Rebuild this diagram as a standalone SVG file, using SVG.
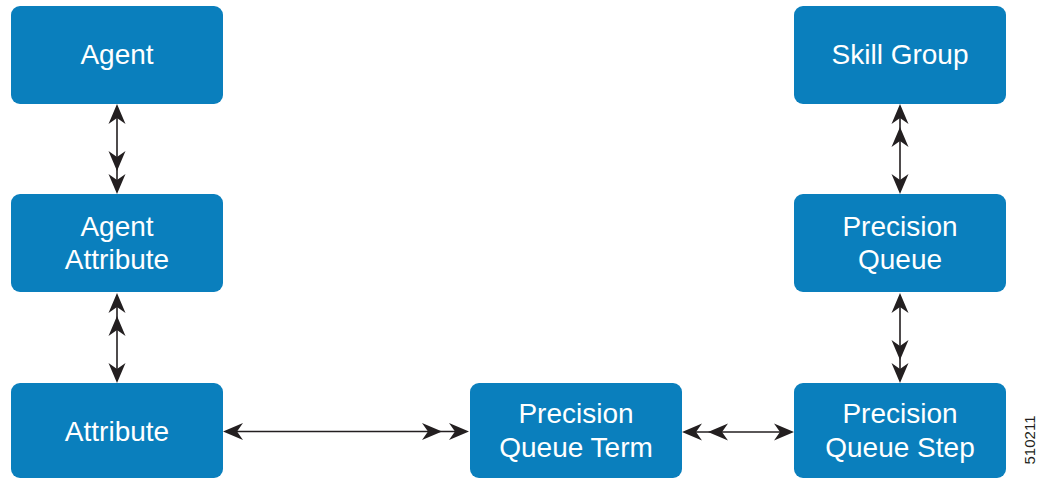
<svg xmlns="http://www.w3.org/2000/svg" xmlns:xlink="http://www.w3.org/1999/xlink" width="1040" height="479" viewBox="0 0 1040 479">
<style>
.box{fill:#0a7fbd}
.lbl{fill:#ffffff;font-family:"Liberation Sans",Arial,sans-serif;font-size:28px;text-anchor:middle}
.ln{stroke:#231f20;stroke-width:1.6;fill:none}
.fig{fill:#231f20;font-family:"Liberation Sans",Arial,sans-serif;font-size:15px;text-anchor:middle}
</style>
<defs>
<path id="ah" d="M0,0 L-20,-8.5 L-14,0 L-20,8.5 Z" fill="#231f20"/>
</defs>
<rect width="1040" height="479" fill="#ffffff"/>
<g id="connectors">
<line class="ln" x1="117" y1="108" x2="117" y2="190"/>
<use xlink:href="#ah" transform="translate(117,104) rotate(-90)"/>
<use xlink:href="#ah" transform="translate(117,171) rotate(90)"/>
<use xlink:href="#ah" transform="translate(117,194) rotate(90)"/>

<line class="ln" x1="117" y1="297" x2="117" y2="379"/>
<use xlink:href="#ah" transform="translate(117,293) rotate(-90)"/>
<use xlink:href="#ah" transform="translate(117,316) rotate(-90)"/>
<use xlink:href="#ah" transform="translate(117,383) rotate(90)"/>

<line class="ln" x1="900" y1="108" x2="900" y2="190"/>
<use xlink:href="#ah" transform="translate(900,104) rotate(-90)"/>
<use xlink:href="#ah" transform="translate(900,127) rotate(-90)"/>
<use xlink:href="#ah" transform="translate(900,194) rotate(90)"/>

<line class="ln" x1="900" y1="297" x2="900" y2="379"/>
<use xlink:href="#ah" transform="translate(900,293) rotate(-90)"/>
<use xlink:href="#ah" transform="translate(900,360) rotate(90)"/>
<use xlink:href="#ah" transform="translate(900,383) rotate(90)"/>

<line class="ln" x1="227" y1="431.5" x2="465" y2="431.5"/>
<use xlink:href="#ah" transform="translate(223,431.5) rotate(180)"/>
<use xlink:href="#ah" transform="translate(442,431.5)"/>
<use xlink:href="#ah" transform="translate(469,431.5)"/>

<line class="ln" x1="686" y1="432" x2="790" y2="432"/>
<use xlink:href="#ah" transform="translate(682,432) rotate(180)"/>
<use xlink:href="#ah" transform="translate(708,432) rotate(180)"/>
<use xlink:href="#ah" transform="translate(794,432)"/>
</g>
<g id="agent">
<rect class="box" x="11" y="6" width="212" height="98" rx="9"/>
<text class="lbl" x="117" y="64">Agent</text>
</g>
<g id="agent-attribute">
<rect class="box" x="11" y="194" width="212" height="98" rx="9"/>
<text class="lbl" x="117" y="236">Agent</text>
<text class="lbl" x="117" y="269">Attribute</text>
</g>
<g id="attribute">
<rect class="box" x="11" y="383" width="212" height="95" rx="9"/>
<text class="lbl" x="117" y="441">Attribute</text>
</g>
<g id="skill-group">
<rect class="box" x="794" y="6" width="212" height="98" rx="9"/>
<text class="lbl" x="900" y="64">Skill Group</text>
</g>
<g id="precision-queue">
<rect class="box" x="794" y="194" width="212" height="98" rx="9"/>
<text class="lbl" x="900" y="236">Precision</text>
<text class="lbl" x="900" y="269">Queue</text>
</g>
<g id="precision-queue-step">
<rect class="box" x="794" y="383" width="212" height="95" rx="9"/>
<text class="lbl" x="900" y="423">Precision</text>
<text class="lbl" x="900" y="457">Queue Step</text>
</g>
<g id="precision-queue-term">
<rect class="box" x="470" y="383" width="212" height="95" rx="9"/>
<text class="lbl" x="576" y="423">Precision</text>
<text class="lbl" x="576" y="457">Queue Term</text>
</g>
<text class="fig" transform="translate(1035,440) rotate(-90)">510211</text>
</svg>
